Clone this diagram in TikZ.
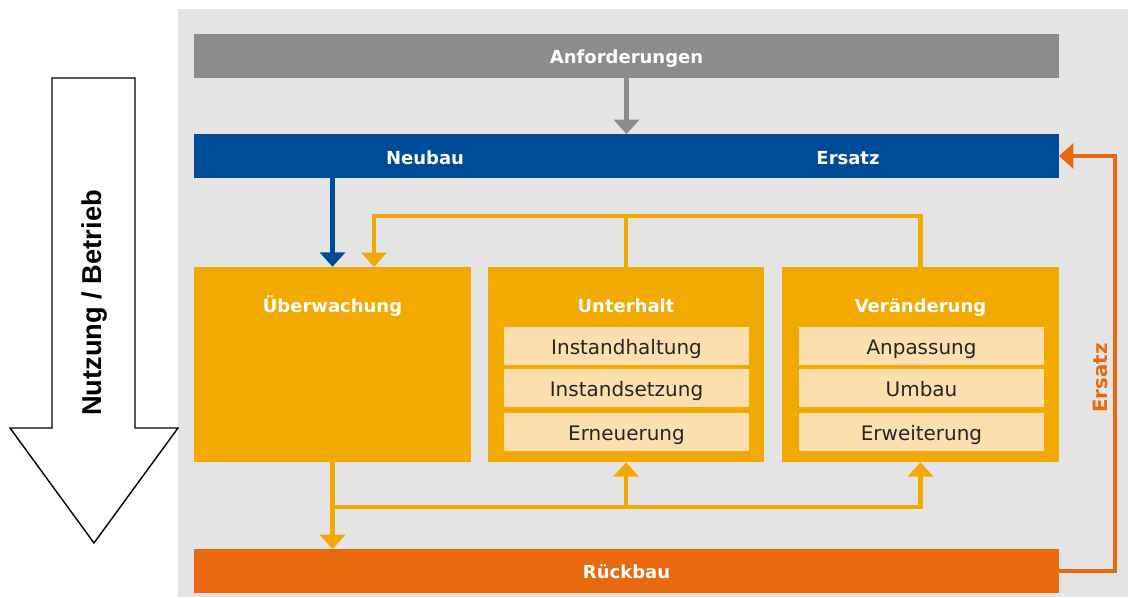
\documentclass[tikz,border=0pt]{standalone}
\usepackage{fontspec}
\setmainfont{DejaVu Sans}
\newfontfamily\arialfont{Liberation Sans}
\usetikzlibrary{arrows.meta,calc}

\definecolor{bggrey}{HTML}{E4E4E4}
\definecolor{anfgrey}{HTML}{8C8C8C}
\definecolor{baublue}{HTML}{004B98}
\definecolor{boxyellow}{HTML}{F2A900}
\definecolor{subpale}{HTML}{FBDFAE}
\definecolor{rueckorange}{HTML}{E8690E}

\tikzset{
	bar/.style={minimum width=21.6cm, minimum height=1.08cm, inner sep=0pt, text=white, text height=0.47cm, text depth=0.09cm, font=\bfseries\fontsize{12.8}{14}\selectfont},
	phase/.style={fill=boxyellow, minimum width=6.9cm, minimum height=4.87cm, inner sep=0pt},
	phasetitle/.style={text=white, text height=0.47cm, text depth=0.09cm, font=\bfseries\fontsize{12.8}{14}\selectfont},
	subbox/.style={fill=subpale, minimum width=6.12cm, minimum height=0.95cm, inner sep=0pt, text=black!85, text height=0.52cm, text depth=0.1cm, font=\fontsize{14.2}{16}\selectfont},
	link/.style={line width=0.11cm, -{Triangle[width=0.62cm,length=0.36cm]}},
	plain/.style={line width=0.11cm}
}

\begin{document}
\begin{tikzpicture}[x=0.025cm, y=-0.025cm]
		\useasboundingbox (0,0) rectangle (1128,597);
		\fill[bggrey] (178,9) rectangle (1128,597);
		
		% bars
		\node[bar, fill=anfgrey] (anf) at (626.5,56) {Anforderungen};
		\node[bar, fill=baublue] (bau) at (626.5,156) {};
		\node[phasetitle] (neubau) at (425,157) {Neubau};
		\node[phasetitle] (ersatz) at (848,157) {Ersatz};
		\node[bar, fill=rueckorange] (rueck) at (626.5,571) {R\"uckbau};
		
		% phases
		\node[phase] (ueber) at (332.5,364.5) {};
		\node[phase] (unter) at (626,364.5) {};
		\node[phase] (veraend) at (920.5,364.5) {};
		\node[phasetitle] (uebertitle) at (332.5,305) {\"Uberwachung};
		\node[phasetitle] (untertitle) at (626,305) {Unterhalt};
		\node[phasetitle] (veraendtitle) at (920.5,305) {Ver\"anderung};
		
		\node[subbox] (haltung) at (626.5,346) {Instandhaltung};
		\node[subbox] (setzung) at (626.5,388) {Instandsetzung};
		\node[subbox] (erneu) at (626.5,432) {Erneuerung};
		\node[subbox] (anpass) at (921.5,346) {Anpassung};
		\node[subbox] (umbau) at (921.5,388) {Umbau};
		\node[subbox] (erweit) at (921.5,432) {Erweiterung};
		
		% connectors
		\coordinate (loop) at (626,216);
		\coordinate (ueberin) at (374,267);
		\coordinate (bus) at (626,507);
		\coordinate (ersatzturn) at (1115,571);
		
		\draw[link, anfgrey] (anf.south) -- (bau.north);
		\draw[link, baublue] (bau.south -| ueber.north) -- (ueber.north);
		\draw[plain, boxyellow] (unter.north) -- (loop);
		\draw[link, boxyellow] (veraend.north) |- (loop) -| (ueberin);
		\draw[link, boxyellow] (ueber.south) -- (ueber.south |- rueck.north);
		\draw[plain, boxyellow] (ueber.south |- bus) -- (bus);
		\draw[link, boxyellow] (bus) -- (unter.south);
		\draw[link, boxyellow] (bus) -| (veraend.south);
		\draw[link, rueckorange] (rueck.east) -- (ersatzturn) |- (bau.east);
		\node[rotate=90, text=rueckorange, font=\bfseries\fontsize{14}{16}\selectfont] (ersatzlabel) at (1100,378) {Ersatz};
		
		% life cycle arrow
		\draw[line width=1pt, fill=white] (52,78) -- (135,78) -- (135,428) -- (178,428) -- (94,543) -- (10,428) -- (52,428) -- cycle;
		\node[rotate=90, font=\arialfont\bfseries\fontsize{19.4}{21}\selectfont] (nutzung) at (95,303) {Nutzung / Betrieb};
	
	\end{tikzpicture}
\end{document}
